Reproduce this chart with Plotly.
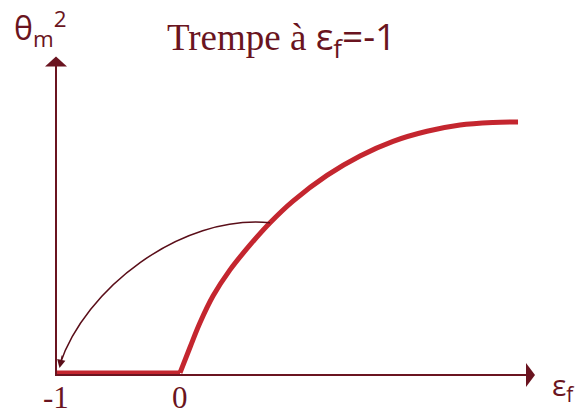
import plotly.graph_objects as go

# Quench path: flat segment then the rising branch
flat_x = [-1, 0]
flat_y = [0, 0]
curve_x = [0.0, 0.081, 0.161, 0.266, 0.403, 0.565, 0.726, 0.911, 1.185, 1.452, 1.718, 1.992, 2.258, 2.524, 2.726]
curve_y = [0.0, 0.102, 0.199, 0.305, 0.409, 0.508, 0.596, 0.682, 0.784, 0.861, 0.919, 0.959, 0.984, 0.994, 0.996]
tick_vals = [-1, 0]
tick_text = ["-1", "0"]

W, H = 579, 412
XR = [-1.4516, 3.2177]
YR = [-0.155, 1.480]

MAROON = "#6a1420"
DARK = "#5a0e19"
RED = "#c4262f"

fig = go.Figure()
fig.add_trace(go.Scatter(x=flat_x, y=flat_y, mode="lines",
                         line=dict(color=RED, width=5), hoverinfo="skip"))
fig.add_trace(go.Scatter(x=curve_x, y=curve_y, mode="lines",
                         line=dict(color=RED, width=5, shape="spline", smoothing=1.0),
                         hoverinfo="skip"))

# axes drawn by hand with filled arrowheads
ux = (XR[1] - XR[0]) / W   # data units per pixel, x
uy = (YR[1] - YR[0]) / H   # data units per pixel, y
x0 = tick_vals[0]
y_ax = -2 * uy
x_end = x0 + 471 * ux
y_end = 1.22
shapes = [
    dict(type="line", x0=x0 - 1 * ux, y0=y_ax, x1=x_end, y1=y_ax,
         line=dict(color=MAROON, width=2)),
    dict(type="line", x0=x0, y0=y_ax - 1 * uy, x1=x0, y1=y_end,
         line=dict(color=MAROON, width=2)),
    dict(type="path",
         path=f"M {x_end + 8*ux},{y_ax} L {x_end - 1*ux},{y_ax + 12*uy} "
              f"L {x_end - 1*ux},{y_ax - 12*uy} Z",
         fillcolor=MAROON, line=dict(width=0)),
    dict(type="path",
         path=f"M {x0},{y_end + 9*uy} L {x0 - 11*ux},{y_end - 1*uy} "
              f"L {x0 + 11*ux},{y_end - 1*uy} Z",
         fillcolor=MAROON, line=dict(width=0)),
]

# curved return arrow from a point on the branch back to the origin
sx, sy = curve_x[6], curve_y[6]
ex, ey = x0 + 4 * ux, 0.035
c1x, c1y = 0.0, 0.63
c2x, c2y = -0.77, 0.33
shapes.append(dict(type="path",
                   path=f"M {sx},{sy} C {c1x},{c1y} {c2x},{c2y} {ex},{ey}",
                   line=dict(color=DARK, width=1.5)))

annotations = [
    dict(x=ex - 0.5 * ux, y=ey - 4 * uy, ax=3, ay=-14, xref="x", yref="y",
         text="", showarrow=True, arrowhead=2, arrowsize=1.4, arrowwidth=1.2,
         arrowcolor=DARK),
]

def label(text, x, y, size, family, xanchor="center"):
    annotations.append(dict(text=text, x=x / W, y=1 - y / H, xref="paper", yref="paper",
                            xanchor=xanchor, yanchor="middle", showarrow=False,
                            font=dict(size=size, family=family, color=MAROON)))

SANS = "Open Sans, Noto Sans, sans-serif"
SERIF = "Liberation Serif, serif"

label("θ<sub>m</sub><sup>2</sup>", 12, 29, 32, SANS, "left")
label("Trempe à <span style='font-family:Open Sans'>ε<sub>f</sub>=-1</span>",
      165, 38, 37, SERIF, "left")
for v, t in zip(tick_vals, tick_text):
    annotations.append(dict(text=t, x=v, y=1 - 397 / H, xref="x", yref="paper",
                            xanchor="center", yanchor="middle", showarrow=False,
                            font=dict(size=31, family=SERIF, color=MAROON)))
label("ε<sub>f</sub>", 550, 386, 30, SANS, "left")

fig.update_layout(
    width=W, height=H,
    margin=dict(l=0, r=0, t=0, b=0),
    paper_bgcolor="white", plot_bgcolor="white",
    showlegend=False,
    xaxis=dict(range=XR, visible=False, fixedrange=True),
    yaxis=dict(range=YR, visible=False, fixedrange=True),
    shapes=shapes, annotations=annotations,
)

fig.write_html("out.html")
